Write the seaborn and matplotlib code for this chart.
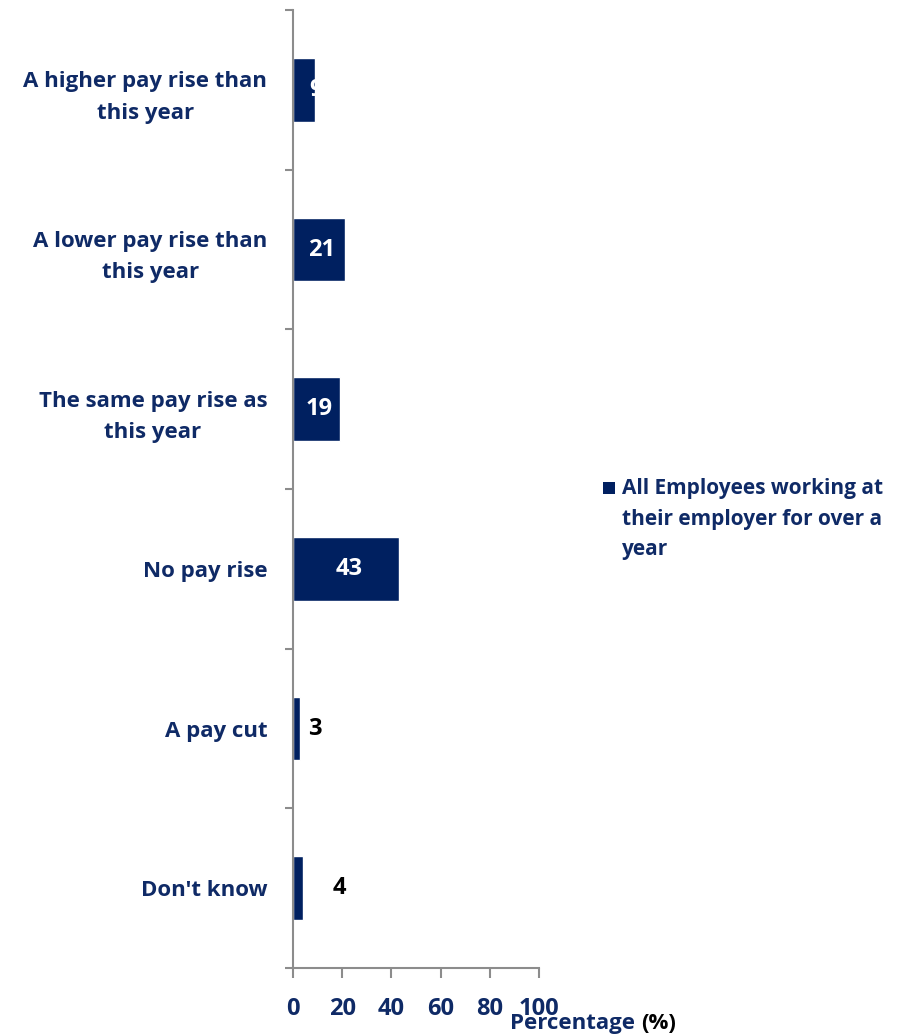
import matplotlib
matplotlib.use("Agg")
import matplotlib.pyplot as plt
from matplotlib.patches import Rectangle
import seaborn as sns
import pandas as pd

categories = [
    "A higher pay rise than\nthis year",
    "A lower pay rise than\nthis year",
    "The same pay rise as\nthis year",
    "No pay rise",
    "A pay cut",
    "Don't know",
]
values = [9, 21, 19, 43, 3, 4]
series_name = "All Employees working at\ntheir employer for over a\nyear"
x_ticks = [0, 20, 40, 60, 80, 100]

NAVY = "#002060"
TEXT = "#0F2A66"
AXIS = "#8C8C8C"
FS_CAT = 16
FS_NUM = 17
FS_LEG = 15

sns.set_theme(style="white")
plt.rcParams["font.family"] = ["Open Sans", "DejaVu Sans"]
plt.rcParams["font.weight"] = "bold"

df = pd.DataFrame({"category": categories, "value": values})

fig = plt.figure(figsize=(8.99, 10.36), dpi=100)
ax = fig.add_axes([0.3259, 0.0656, 0.2737, 0.9247])

sns.barplot(data=df, x="value", y="category", color=NAVY, saturation=1,
            width=0.4, ax=ax, orient="h")

ax.set_xlim(0, 100)
ax.set_ylim(5.5, -0.5)
ax.set_xlabel("")
ax.set_ylabel("")

for s in ["top", "right"]:
    ax.spines[s].set_visible(False)
for s in ["left", "bottom"]:
    ax.spines[s].set_color(AXIS)
    ax.spines[s].set_linewidth(1.5)

# x axis
ax.set_xticks(x_ticks)
ax.set_xticklabels([str(t) for t in x_ticks], fontsize=FS_NUM, fontweight="bold",
                   color=TEXT)
ax.tick_params(axis="x", bottom=True, length=7, width=1.5, color=AXIS, pad=14)

# y axis: labels at category centres, tick marks between categories
ax.set_yticks(range(len(categories)))
ax.set_yticklabels(categories, fontsize=FS_CAT, fontweight="bold", color=TEXT,
                   linespacing=1.65, multialignment="center")
ax.tick_params(axis="y", which="major", left=False, length=0, pad=18.5)
ax.set_yticks([i - 0.5 for i in range(len(categories) + 1)], minor=True)
ax.tick_params(axis="y", which="minor", left=True, length=6, width=1.5, color=AXIS)

# value labels: white inside the bar, black beside the short ones
bars = ax.patches
for bar, v in zip(bars, values):
    yc = bar.get_y() + bar.get_height() / 2
    if v >= 9:
        xpos = v + 0.3 if v == 9 else v / 2 + 1.2
        t = ax.text(xpos, yc, str(v), ha="center", va="center", color="white",
                    fontsize=FS_NUM, fontweight="bold")
        t.set_clip_path(bar)
    else:
        xpos = v + (5.7 if v == 3 else 14.7)
        ax.text(xpos, yc, str(v), ha="center", va="center", color="black",
                fontsize=FS_NUM, fontweight="bold")

# axis title: "Percentage" in navy followed by "(%)" in black
base_y = 1 - 1029 / 1036
title_a = fig.text(510 / 899, base_y, "Percentage ", fontsize=16, fontweight="bold",
                   color=TEXT, ha="left", va="baseline")
fig.canvas.draw()
bb = title_a.get_window_extent()
fig.text(bb.x1 / fig.bbox.width, base_y, "(%)", fontsize=16, fontweight="bold",
         color="black", ha="left", va="baseline")

# legend: square swatch beside the first line of the series name
fig.patches.append(Rectangle((603 / 899, 1 - 494 / 1036), 12 / 899, 12 / 1036,
                             transform=fig.transFigure, facecolor=NAVY,
                             edgecolor="none"))
fig.text(622 / 899, 1 - 478 / 1036, series_name, fontsize=FS_LEG, fontweight="bold",
         color=TEXT, ha="left", va="top", linespacing=1.6)

fig.savefig("out.png", dpi=100)
